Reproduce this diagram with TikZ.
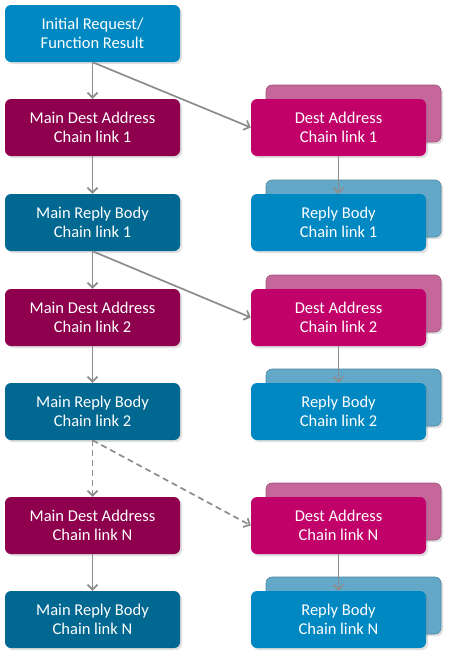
\documentclass[tikz,border=0pt]{standalone}
\usepackage{fontspec}
\setmainfont{Carlito}
\usetikzlibrary{calc}
\usetikzlibrary{shadows}
\usetikzlibrary{arrows.meta}

\definecolor{reqblue}{HTML}{0088C2}
\definecolor{maindest}{HTML}{8E004E}
\definecolor{mainreply}{HTML}{006891}
\definecolor{destpink}{HTML}{C2006A}
\definecolor{destback}{HTML}{C6679B}
\definecolor{replyback}{HTML}{63A7C9}
\definecolor{linkgray}{HTML}{8C8C8C}

\tikzset{
  box/.style={rounded corners=6pt, minimum width=175pt, minimum height=57pt,
    align=center, text=white, font=\fontsize{16.5}{19}\selectfont,
    drop shadow={shadow xshift=2pt, shadow yshift=-2pt, opacity=0.25}},
  backbox/.style={box, draw=#1!80!black, line width=0.6pt},
  link/.style={draw=linkgray, line width=1.7pt,
    -{Straight Barb[length=5pt,width=10pt]}},
  dashlink/.style={link, dash pattern=on 6pt off 4pt},
}

\begin{document}
\begin{tikzpicture}[x=1pt,y=-1pt]
	\useasboundingbox (0,0) rectangle (451,656);

	%% Centres of the two columns
	\coordinate (Q0) at (92.5,33.5);  % initial request
	\coordinate (M1) at (92.5,127.5); % main dest 1
	\coordinate (B1) at (92.5,222.5); % main reply 1
	\coordinate (M2) at (92.5,317.5);
	\coordinate (B2) at (92.5,411.5);
	\coordinate (MN) at (92.5,525.5);
	\coordinate (BN) at (92.5,619.5);

	\coordinate (D1) at (338.5,127.5); % dest address 1
	\coordinate (R1) at (338.5,222.5); % reply body 1
	\coordinate (D2) at (338.5,317.5);
	\coordinate (R2) at (338.5,411.5);
	\coordinate (DN) at (338.5,525.5);
	\coordinate (RN) at (338.5,619.5);

	%% Back copies behind the right column
	\foreach \p/\c in {D1/destback, D2/destback, DN/destback,
	                   R1/replyback, R2/replyback, RN/replyback}
	{
	  \node[backbox=\c, fill=\c] (\p back) at ($(\p)+(15,-14)$) {};
	}

	%% Left column
	\node[box, fill=reqblue] (req) at (Q0) {Initial Request/\\Function Result};
	\node[box, fill=maindest] (md1) at (M1) {Main Dest Address\\Chain link 1};
	\node[box, fill=mainreply] (mr1) at (B1) {Main Reply Body\\Chain link 1};
	\node[box, fill=maindest] (md2) at (M2) {Main Dest Address\\Chain link 2};
	\node[box, fill=mainreply] (mr2) at (B2) {Main Reply Body\\Chain link 2};
	\node[box, fill=maindest] (mdN) at (MN) {Main Dest Address\\Chain link N};
	\node[box, fill=mainreply] (mrN) at (BN) {Main Reply Body\\Chain link N};

	%% Right column
	\node[box, fill=destpink] (da1) at (D1) {Dest Address\\Chain link 1};
	\node[box, fill=reqblue] (rb1) at (R1) {Reply Body\\Chain link 1};
	\node[box, fill=destpink] (da2) at (D2) {Dest Address\\Chain link 2};
	\node[box, fill=reqblue] (rb2) at (R2) {Reply Body\\Chain link 2};
	\node[box, fill=destpink] (daN) at (DN) {Dest Address\\Chain link N};
	\node[box, fill=reqblue] (rbN) at (RN) {Reply Body\\Chain link N};

	%% Links
	\draw[link] (req.south) -- (md1.north);
	\draw[link] (req.south) -- (da1.west);
	\draw[link] (md1.south) -- (mr1.north);
	\draw[link] (mr1.south) -- (md2.north);
	\draw[link] (mr1.south) -- (da2.west);
	\draw[link] (md2.south) -- (mr2.north);
	\draw[dashlink] (mr2.south) -- (mdN.north);
	\draw[dashlink] (mr2.south) -- (daN.west);
	\draw[link] (mdN.south) -- (mrN.north);

	\draw[link] (da1.south) -- (rb1.north);
	\draw[link] (da2.south) -- (rb2.north);
	\draw[link] (daN.south) -- (rbN.north);
\end{tikzpicture}
\end{document}
